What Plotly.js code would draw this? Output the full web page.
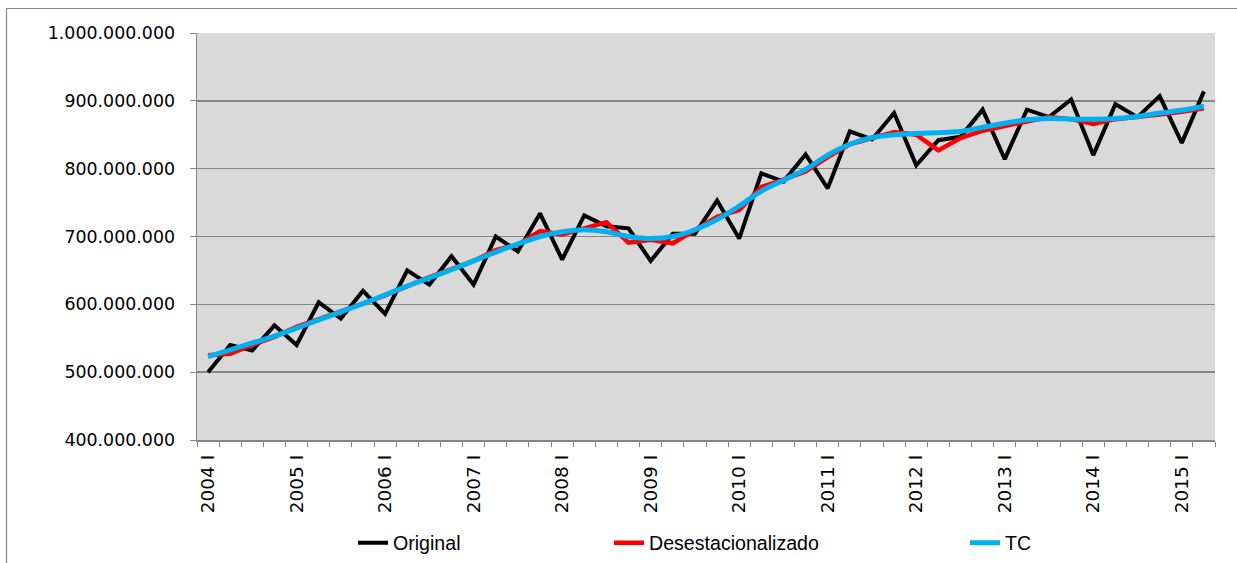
<!DOCTYPE html>
<html>
<head>
<meta charset="utf-8">
<script src="https://cdn.plot.ly/plotly-3.0.1.min.js"></script>
<style>
  html, body { margin: 0; padding: 0; background: #ffffff; overflow: hidden; }
  #chart { width: 1237px; height: 563px; }
</style>
</head>
<body>
<div id="chart"></div>
<script>
// Quarterly categories, 2004 I .. 2015 II
var categories = [
  "2004 I","2004 II","2004 III","2004 IV",
  "2005 I","2005 II","2005 III","2005 IV",
  "2006 I","2006 II","2006 III","2006 IV",
  "2007 I","2007 II","2007 III","2007 IV",
  "2008 I","2008 II","2008 III","2008 IV",
  "2009 I","2009 II","2009 III","2009 IV",
  "2010 I","2010 II","2010 III","2010 IV",
  "2011 I","2011 II","2011 III","2011 IV",
  "2012 I","2012 II","2012 III","2012 IV",
  "2013 I","2013 II","2013 III","2013 IV",
  "2014 I","2014 II","2014 III","2014 IV",
  "2015 I","2015 II"
];

// Tick labels shown on the axis (only first quarter of each year)
var tickLabels = ["2004 I","2005 I","2006 I","2007 I","2008 I","2009 I",
                  "2010 I","2011 I","2012 I","2013 I","2014 I","2015 I"];

// Values in millions
var original = [
  500, 540, 532, 569,
  540, 603, 579, 620,
  586, 650, 629, 671,
  629, 700, 678, 734,
  666, 731, 715, 712,
  664, 704, 704, 753,
  697, 793, 781, 821,
  771, 855, 843, 882,
  805, 842, 847, 887,
  814, 887, 876, 902,
  820, 895, 876, 907,
  838, 914
];

var desestacionalizado = [
  525, 527, 540, 552,
  567, 578, 589, 601,
  613, 627, 640, 652,
  664, 680, 688, 708,
  703, 712, 721, 691,
  695, 690, 709, 729,
  739, 773, 784, 796,
  817, 836, 845, 854,
  850, 827, 845, 856,
  863, 869, 876, 873,
  866, 873, 876, 880,
  884, 889
];

var tc = [
  523, 533, 543, 553,
  565, 577, 589, 601,
  614, 627, 639, 651,
  664, 677, 689, 700,
  707, 710, 707, 700,
  697, 700, 710, 725,
  745, 767, 783, 799,
  820, 836, 846, 850,
  852, 853, 855, 861,
  867, 872, 874, 873,
  873, 874, 877, 882,
  886, 892
];

var seriesNames = ["Original", "Desestacionalizado", "TC"];

function toUnits(arr) { return arr.map(function (v) { return v * 1e6; }); }

var traces = [
  { x: categories, y: toUnits(original), name: seriesNames[0], type: "scatter", mode: "lines",
    line: { color: "#000000", width: 4 }, legend: "legend" },
  { x: categories, y: toUnits(desestacionalizado), name: seriesNames[1], type: "scatter", mode: "lines",
    line: { color: "#ff0000", width: 4.5 }, legend: "legend2" },
  { x: categories, y: toUnits(tc), name: seriesNames[2], type: "scatter", mode: "lines",
    line: { color: "#00b0f0", width: 5, shape: "spline", smoothing: 0.6 }, legend: "legend3" }
];

var tickText = categories.map(function (c) { return tickLabels.indexOf(c) >= 0 ? c : ""; });

var legendFont = { family: "'Liberation Sans Narrow', 'Liberation Sans', sans-serif", size: 19.6, color: "#000000" };
function legendAt(px) {
  return { x: px / 1237, y: 1 - 543 / 563, xref: "container", yref: "container",
           xanchor: "left", yanchor: "middle", orientation: "h",
           bgcolor: "rgba(0,0,0,0)", borderwidth: 0, font: legendFont };
}

var PL = 197, PR = 1215, PT = 33, PB = 440;
function px2x(px) { return (px - PL) / (PR - PL); }
function py2y(py) { return (PB - py) / (PB - PT); }

var layout = {
  width: 1237, height: 563,
  margin: { l: PL, r: 1237 - PR, t: PT, b: 563 - PB, autoexpand: false },
  paper_bgcolor: "#ffffff",
  plot_bgcolor: "#d9d9d9",
  separators: ",.",
  showlegend: true,
  xaxis: {
    type: "category",
    tickmode: "array",
    tickvals: categories,
    ticktext: tickText,
    tickson: "boundaries",
    ticks: "outside", ticklen: 5, tickwidth: 1, tickcolor: "#868686",
    ticklabelstandoff: 6,
    showline: true, linecolor: "#868686", linewidth: 1.5,
    showgrid: false,
    tickangle: -90,
    automargin: false,
    tickfont: { family: "'DejaVu Sans', sans-serif", size: 18.5, color: "#000000" },
    range: [-0.5, 45.5],
    fixedrange: true
  },
  yaxis: {
    range: [400e6, 1000e6],
    tickmode: "linear", tick0: 400e6, dtick: 100e6,
    tickformat: ",d",
    ticks: "outside", ticklen: 6, tickwidth: 1, tickcolor: "#868686",
    ticklabelstandoff: 11,
    showline: true, linecolor: "#868686", linewidth: 1.5,
    showgrid: true, gridcolor: "#878787", gridwidth: 1.5,
    zeroline: false,
    automargin: false,
    tickfont: { family: "'DejaVu Sans', sans-serif", size: 17.4, color: "#000000" },
    fixedrange: true
  },
  legend: legendAt(353),
  legend2: legendAt(609),
  legend3: legendAt(965),
  shapes: [
    { type: "line", xref: "paper", yref: "paper",
      x0: px2x(6.5), x1: px2x(6.5), y0: py2y(600), y1: py2y(8.5),
      line: { color: "#868686", width: 1.2 }, layer: "below" },
    { type: "line", xref: "paper", yref: "paper",
      x0: px2x(6.5), x1: px2x(1300), y0: py2y(8.5), y1: py2y(8.5),
      line: { color: "#868686", width: 1.2 }, layer: "below" }
  ]
};

Plotly.newPlot("chart", traces, layout, { displayModeBar: false, staticPlot: true });
</script>
</body>
</html>
